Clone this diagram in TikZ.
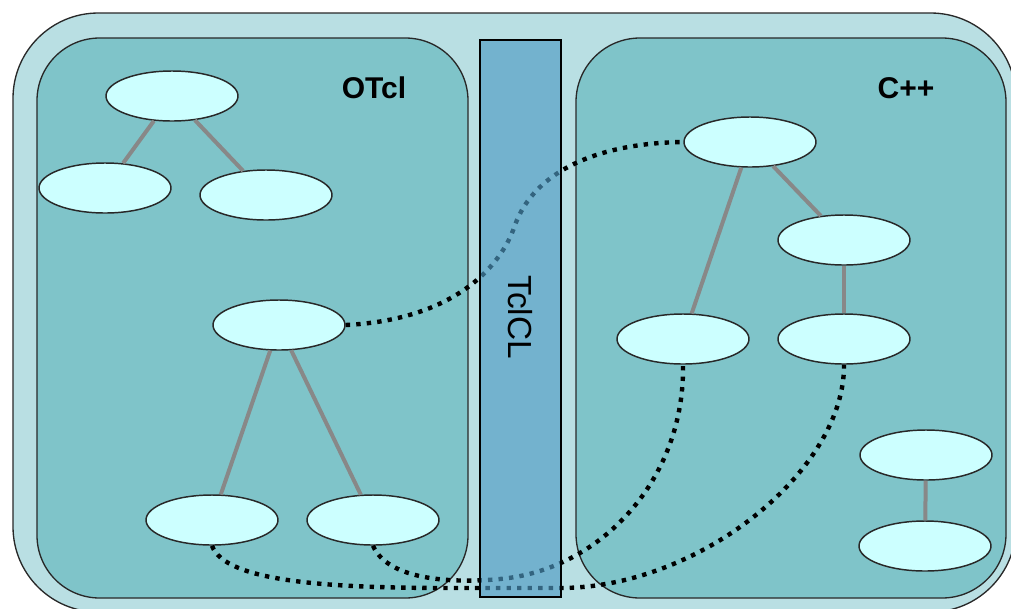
\documentclass[tikz,border=0pt]{standalone}
\usepackage{fontspec}
\setmainfont{Liberation Sans}
\usetikzlibrary{shapes.geometric}
\definecolor{outerc}{RGB}{185,223,227}
\definecolor{innerc}{RGB}{127,196,201}
\definecolor{ellc}{RGB}{204,255,255}
\definecolor{barc}{RGB}{79,155,196}
\definecolor{edgec}{RGB}{136,136,136}
\definecolor{linec}{RGB}{40,40,40}
\begin{document}
\begin{tikzpicture}[x=0.75pt,y=-0.75pt,
  obj/.style={ellipse, draw=linec, line width=1.1pt, fill=ellc,
    minimum width=99pt, minimum height=37.5pt, inner sep=0pt},
  tree/.style={draw=edgec, line width=3pt},
  link/.style={draw=black, line width=3.3pt, dash pattern=on 3.3pt off 4.6pt},
  frame/.style={draw=linec, line width=1pt},
  lbl/.style={font=\fontsize{22.5}{26}\selectfont\bfseries, inner sep=0pt}]
\useasboundingbox (0,0) rectangle (1011,608);
\clip (0,0) rectangle (1011,608);
% frames
\path[frame, fill=outerc, rounded corners=64pt] (13,13) rectangle (1016,612);
\path[frame, fill=innerc, rounded corners=47pt] (37,38) rectangle (468,598);
\path[frame, fill=innerc, rounded corners=48pt] (576,38) rectangle (1006,598);
% objects
\node[obj] (A) at (172,96) {};
\node[obj] (B) at (105,188) {};
\node[obj] (C) at (266,195) {};
\node[obj] (D) at (279,325) {};
\node[obj] (E) at (212,520) {};
\node[obj] (F) at (373,520) {};
\node[obj] (G) at (750,142) {};
\node[obj] (H) at (844,240) {};
\node[obj] (I) at (683,339) {};
\node[obj] (J) at (844,339) {};
\node[obj] (K) at (926,455) {};
\node[obj] (L) at (925,546) {};
% tree edges
\draw[tree] (A) -- (B);
\draw[tree] (A) -- (C);
\draw[tree] (D) -- (E);
\draw[tree] (D) -- (F);
\draw[tree] (G) -- (I);
\draw[tree] (G) -- (H);
\draw[tree] (H) -- (J);
\draw[tree] (K) -- (L);
% links
\draw[link] (D.east) .. controls (450,320) and (500,270) .. (515,225)
  .. controls (535,170) and (600,143) .. (G.west);
\draw[link] (E.south) .. controls (225,582) and (330,588) .. (450,588) -- (560,588)
  .. controls (700,588) and (845,470) .. (J.south);
\draw[link] (F.south) .. controls (390,585) and (470,582) .. (500,579)
  .. controls (600,570) and (685,480) .. (I.south);
% bar
\path[draw=black, line width=1pt, fill=barc, fill opacity=0.65] (480,40) rectangle (561,597);
\node[rotate=-90, inner sep=0pt, font=\fontsize{25}{28}\selectfont] (tcl) at (520,317) {TclCL};
% labels
\node[lbl] (otcl) at (374,88) {OTcl};
\node[lbl] (cpp) at (906,88) {C++};
\end{tikzpicture}
\end{document}
